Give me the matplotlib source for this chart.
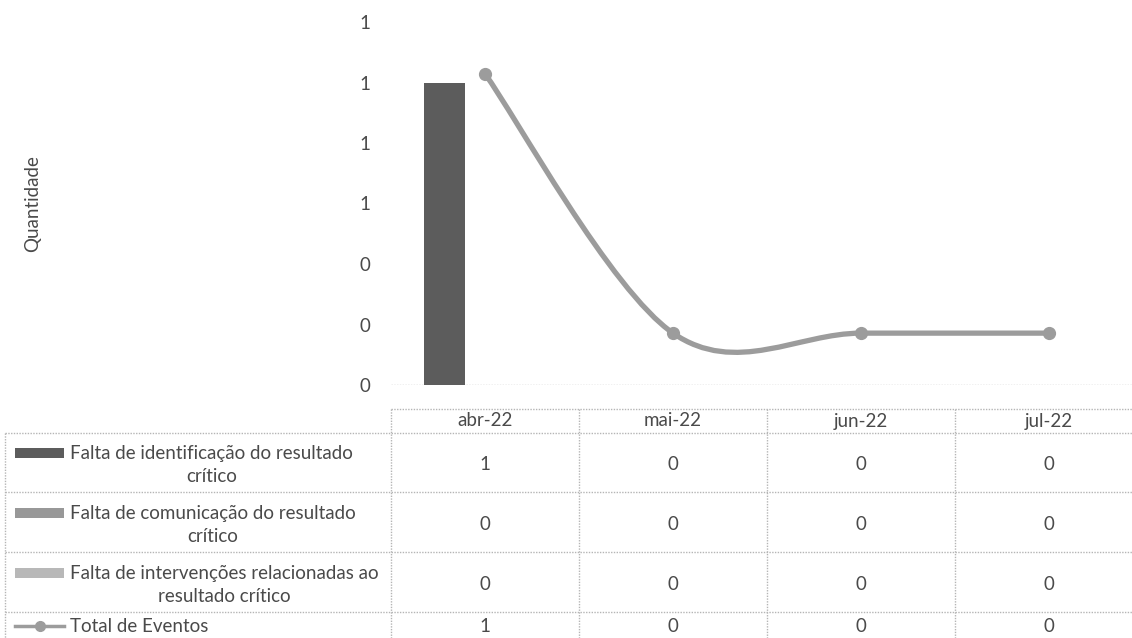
import matplotlib
matplotlib.use("Agg")
import matplotlib.pyplot as plt
from matplotlib.path import Path
from matplotlib.patches import PathPatch, Rectangle
from matplotlib.lines import Line2D
from matplotlib.transforms import Affine2D, blended_transform_factory
import numpy as np

# ---- data ----
categories = ["abr-22", "mai-22", "jun-22", "jul-22"]
series_names = [
    "Falta de identificação do resultado\ncrítico",
    "Falta de comunicação do resultado\ncrítico",
    "Falta de intervenções relacionadas ao\nresultado crítico",
]
falta_identificacao = [1, 0, 0, 0]
falta_comunicacao = [0, 0, 0, 0]
falta_intervencoes = [0, 0, 0, 0]
total_eventos = [1, 0, 0, 0]
total_name = "Total de Eventos"
y_ticks = [0, 0.2, 0.4, 0.6, 0.8, 1.0, 1.2]

bar_series = [falta_identificacao, falta_comunicacao, falta_intervencoes]
bar_colors = ["#5c5c5c", "#989898", "#b8b8b8"]
line_color = "#9c9c9c"
text_color = "#4a4a4a"
grid_color = "#b5b5b5"

plt.rcParams["font.family"] = ["Lato", "DejaVu Sans"]
FS = 13.5

W, H = 1132, 638
fig = plt.figure(figsize=(W / 100, H / 100), dpi=100)
fig.patch.set_facecolor("white")

# axes in pixel coords (from top-left)
L, R, T, B = 391, 1143, 22, 385
ax = fig.add_axes([L / W, 1 - B / H, (R - L) / W, (B - T) / H])
ax.set_xlim(-0.5, len(categories) - 0.5)
ax.set_ylim(0, 1.2)
for s in ax.spines.values():
    s.set_visible(False)
ax.set_xticks([])
ax.set_yticks(y_ticks)
ax.set_yticklabels([f"{v:.0f}" for v in y_ticks])
ax.tick_params(axis="y", length=0, pad=15, labelsize=FS, labelcolor=text_color)
ax.set_ylabel("Quantidade", fontsize=FS, color=text_color)
ax.yaxis.set_label_coords((33 - L) / (R - L), 0.5)
ax.yaxis.label.set_va("center")

x = np.arange(len(categories))
bw = 0.218
for i, (vals, col) in enumerate(zip(bar_series, bar_colors)):
    ax.bar(x + (i - 1) * bw, vals, width=bw, color=col, edgecolor="none", zorder=2)

ax.axhline(0, color=grid_color, lw=1, ls=(0, (1, 1)), zorder=1)

# secondary axis for the line
ax2 = ax.twinx()
ax2.set_ylim(-0.2, 1.2)
ax2.axis("off")

# smoothed line (Excel-style Catmull-Rom Bezier)
pts = np.column_stack([x, np.array(total_eventos, dtype=float)])
n = len(pts)
verts = [tuple(pts[0])]
codes = [Path.MOVETO]
for i in range(n - 1):
    p0 = pts[max(i - 1, 0)]
    p1 = pts[i]
    p2 = pts[i + 1]
    p3 = pts[min(i + 2, n - 1)]
    c1 = p1 + (p2 - p0) / 6.0
    c2 = p2 - (p3 - p1) / 6.0
    verts += [tuple(c1), tuple(c2), tuple(p2)]
    codes += [Path.CURVE4] * 3
ax2.add_patch(PathPatch(Path(verts, codes), facecolor="none", edgecolor=line_color,
                        lw=3.8, capstyle="round", zorder=3))
ax2.plot(x, total_eventos, ls="none", marker="o", ms=8.5, color=line_color,
         mec=line_color, zorder=4)

# ---- data table ----
pix = Affine2D().scale(1 / W, -1 / H).translate(0, 1) + fig.transFigure
colx = blended_transform_factory(ax.transData, pix)

def hline(x0, x1, y):
    fig.add_artist(Line2D([x0, x1], [y, y], transform=pix, color=grid_color,
                          lw=1, ls=(0, (1, 1))))

def vline(xv, y0, y1):
    fig.add_artist(Line2D([xv, xv], [y0, y1], transform=pix, color=grid_color,
                          lw=1, ls=(0, (1, 1))))

hline(L, W, 409)
for yv in [433, 492, 552, 612]:
    hline(5, W, yv)
vline(5, 433, H)
for k in range(len(categories)):
    xb = L + k * (R - L) / len(categories)
    vline(xb, 409, H)

for k, c in enumerate(categories):
    fig.text(k, 421, c, transform=colx, ha="center", va="center",
             fontsize=FS, color=text_color)

row_centers = [465, 525, 585, 626]
all_rows = bar_series + [total_eventos]
for r, vals in enumerate(all_rows):
    for k, v in enumerate(vals):
        fig.text(k, row_centers[r], f"{v}", transform=colx, ha="center",
                 va="center", fontsize=FS, color=text_color)

# legend labels in left column
for r, (name, col) in enumerate(zip(series_names, bar_colors)):
    yc = row_centers[r]
    fig.text(70, yc, name, transform=pix, ha="left", va="center",
             multialignment="center", fontsize=FS, color=text_color,
             linespacing=1.4)
    fig.add_artist(Rectangle((15, yc - 17), 49, 10, transform=pix,
                             facecolor=col, edgecolor="none"))

yc = row_centers[3]
fig.text(70, yc, total_name, transform=pix, ha="left", va="center",
         fontsize=FS, color=text_color)
fig.add_artist(Line2D([15, 64], [yc, yc], transform=pix, color=line_color, lw=2.5))
fig.add_artist(Line2D([39.5], [yc], transform=pix, color=line_color, marker="o",
                      ms=7, ls="none"))

fig.savefig("out.png", dpi=100, facecolor="white")
